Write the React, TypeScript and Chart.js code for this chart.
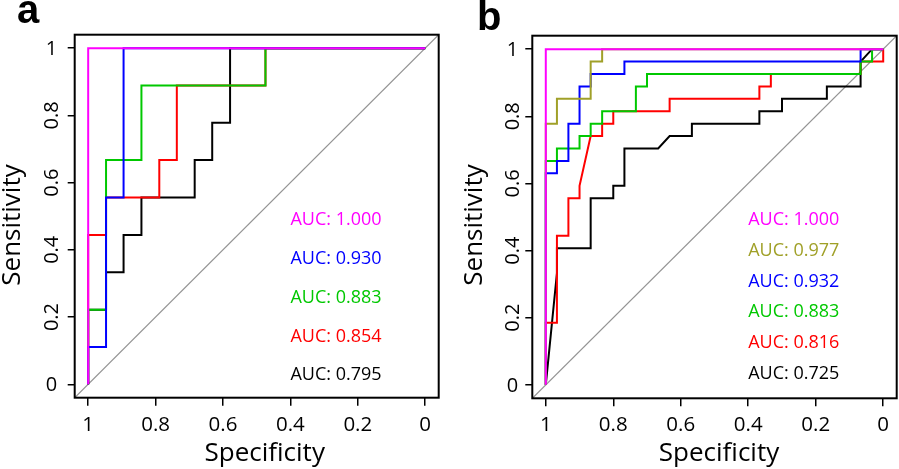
import React, { useEffect, useRef } from "react";
import { Chart, registerables } from "chart.js";

Chart.register(...registerables);

// ---------- shared axis ticks ----------
const AXIS_TICKS = [0, 0.2, 0.4, 0.6, 0.8, 1];
const AXIS_TICK_LABELS = ["0", "0.2", "0.4", "0.6", "0.8", "1"];
const X_TITLE = "Specificity";
const Y_TITLE = "Sensitivity";

// ---------- panel a data (specificity, sensitivity) ----------
const A_MAGENTA_SPEC = [1, 1, 0];
const A_MAGENTA_SENS = [0, 1, 1];
const A_BLUE_SPEC = [1, 1, 0.947, 0.947, 0.895, 0.895, 0];
const A_BLUE_SENS = [0, 0.111, 0.111, 0.556, 0.556, 1, 1];
const A_GREEN_SPEC = [1, 1, 0.947, 0.947, 0.842, 0.842, 0.474, 0.474, 0];
const A_GREEN_SENS = [0, 0.222, 0.222, 0.667, 0.667, 0.889, 0.889, 1, 1];
const A_RED_SPEC = [1, 1, 0.947, 0.947, 0.789, 0.789, 0.737, 0.737, 0.474, 0.474, 0];
const A_RED_SENS = [0, 0.444, 0.444, 0.556, 0.556, 0.667, 0.667, 0.889, 0.889, 1, 1];
const A_BLACK_SPEC = [1, 1, 0.947, 0.947, 0.895, 0.895, 0.842, 0.842, 0.684, 0.684, 0.632, 0.632, 0.579, 0.579, 0];
const A_BLACK_SENS = [0, 0.222, 0.222, 0.333, 0.333, 0.444, 0.444, 0.556, 0.556, 0.667, 0.667, 0.778, 0.778, 1, 1];
const A_AUC_LABELS = ["AUC: 1.000", "AUC: 0.930", "AUC: 0.883", "AUC: 0.854", "AUC: 0.795"];

// ---------- panel b data ----------
const B_MAGENTA_SPEC = [1, 1, 0];
const B_MAGENTA_SENS = [0, 1, 1];
const B_OLIVE_SPEC = [1, 1, 0.967, 0.967, 0.867, 0.867, 0.833, 0.833, 0];
const B_OLIVE_SENS = [0, 0.778, 0.778, 0.852, 0.852, 0.963, 0.963, 1, 1];
const B_BLUE_SPEC = [1, 1, 0.967, 0.967, 0.933, 0.933, 0.9, 0.9, 0.867, 0.867, 0.767, 0.767, 0.067, 0.067, 0];
const B_BLUE_SENS = [0, 0.63, 0.63, 0.667, 0.667, 0.778, 0.778, 0.889, 0.889, 0.926, 0.926, 0.963, 0.963, 1, 1];
const B_GREEN_SPEC = [1, 1, 0.967, 0.967, 0.9, 0.9, 0.867, 0.867, 0.833, 0.833, 0.733, 0.733, 0.7, 0.7, 0.067, 0.067, 0.033, 0.033, 0];
const B_GREEN_SENS = [0, 0.667, 0.667, 0.704, 0.704, 0.741, 0.741, 0.778, 0.778, 0.815, 0.815, 0.889, 0.889, 0.926, 0.926, 0.963, 0.963, 1, 1];
const B_RED_SPEC = [1, 1, 0.967, 0.967, 0.933, 0.933, 0.9, 0.9, 0.867, 0.833, 0.833, 0.8, 0.8, 0.633, 0.633, 0.367, 0.367, 0.333, 0.333, 0.067, 0.067, 0, 0];
const B_RED_SENS = [0, 0.185, 0.185, 0.444, 0.444, 0.556, 0.556, 0.593, 0.741, 0.741, 0.778, 0.778, 0.815, 0.815, 0.852, 0.852, 0.889, 0.889, 0.926, 0.926, 0.963, 0.963, 1];
const B_BLACK_SPEC = [1, 0.967, 0.967, 0.867, 0.867, 0.8, 0.8, 0.767, 0.767, 0.667, 0.633, 0.567, 0.567, 0.367, 0.367, 0.3, 0.3, 0.167, 0.167, 0.067, 0.067, 0.033, 0];
const B_BLACK_SENS = [0, 0.333, 0.407, 0.407, 0.556, 0.556, 0.593, 0.593, 0.704, 0.704, 0.741, 0.741, 0.778, 0.778, 0.815, 0.815, 0.852, 0.852, 0.889, 0.889, 0.963, 1, 1];
const B_AUC_LABELS = ["AUC: 1.000", "AUC: 0.977", "AUC: 0.932", "AUC: 0.883", "AUC: 0.816", "AUC: 0.725"];

// chance line endpoints (axis extremes)
const DIAG_SPEC = [1.04, -0.04];
const DIAG_SENS = [-0.04, 1.04];

// ---------- styles ----------
const MAGENTA = "#FF00FF";
const OLIVE = "#A0A028";
const BLUE = "#0000FF";
const GREEN = "#00C800";
const RED = "#FF0000";
const BLACK = "#000000";
const DIAG_COLOR = "#949494";
const FONT = '"Open Sans", "DejaVu Sans", sans-serif';

type Series = { spec: number[]; sens: number[]; color: string };
type Panel = {
  letter: string;
  series: Series[];
  aucLabels: string[];
  aucColors: string[];
  aucY: number[];
  aucX: number;
  padTop: number;
  padRight: number;
  yAxisW: number;
  xAxisH: number;
  yLabelX: number;
  yTitleX: number;
  xTitleX: number;
  titleBaseline: number;
  letterX: number;
  letterBaseline: number;
};

const PANEL_A: Panel = {
  letter: "a",
  series: [
    { spec: A_MAGENTA_SPEC, sens: A_MAGENTA_SENS, color: MAGENTA },
    { spec: A_BLUE_SPEC, sens: A_BLUE_SENS, color: BLUE },
    { spec: A_GREEN_SPEC, sens: A_GREEN_SENS, color: GREEN },
    { spec: A_RED_SPEC, sens: A_RED_SENS, color: RED },
    { spec: A_BLACK_SPEC, sens: A_BLACK_SENS, color: BLACK },
  ],
  aucLabels: A_AUC_LABELS,
  aucColors: [MAGENTA, BLUE, GREEN, RED, BLACK],
  aucY: [0.493, 0.378, 0.262, 0.146, 0.031],
  aucX: 0.4,
  padTop: 34.7,
  padRight: 11.3,
  yAxisW: 74.7,
  xAxisH: 71.3,
  yLabelX: 51,
  yTitleX: 20,
  xTitleX: 264.7,
  titleBaseline: 461,
  letterX: 17,
  letterBaseline: 22.5,
};

const PANEL_B: Panel = {
  letter: "b",
  series: [
    { spec: B_MAGENTA_SPEC, sens: B_MAGENTA_SENS, color: MAGENTA },
    { spec: B_OLIVE_SPEC, sens: B_OLIVE_SENS, color: OLIVE },
    { spec: B_BLUE_SPEC, sens: B_BLUE_SENS, color: BLUE },
    { spec: B_GREEN_SPEC, sens: B_GREEN_SENS, color: GREEN },
    { spec: B_RED_SPEC, sens: B_RED_SENS, color: RED },
    { spec: B_BLACK_SPEC, sens: B_BLACK_SENS, color: BLACK },
  ],
  aucLabels: B_AUC_LABELS,
  aucColors: [MAGENTA, OLIVE, BLUE, GREEN, RED, BLACK],
  aucY: [0.495, 0.403, 0.312, 0.22, 0.128, 0.037],
  aucX: 0.4,
  padTop: 35.7,
  padRight: 2.3,
  yAxisW: 82.3,
  xAxisH: 70.7,
  yLabelX: 62,
  yTitleX: 31.5,
  xTitleX: 269,
  titleBaseline: 461,
  letterX: 27,
  letterBaseline: 30,
};

const decorPlugin = {
  id: "panelDecor",
  afterDraw(chart: any, _args: any, opts: any) {
    const p: Panel = opts.panel;
    const { ctx, chartArea: ca, scales } = chart;
    const xs = scales.x;
    const ys = scales.y;
    ctx.save();
    // frame
    ctx.strokeStyle = "#000";
    ctx.lineWidth = 2;
    ctx.strokeRect(ca.left, ca.top, ca.right - ca.left, ca.bottom - ca.top);

    // y tick labels (R style: parallel to axis)
    ctx.fillStyle = "#000";
    ctx.font = `20px ${FONT}`;
    ctx.textAlign = "center";
    ctx.textBaseline = "alphabetic";
    AXIS_TICKS.forEach((v, i) => {
      const label = AXIS_TICK_LABELS[i];
      const py = ys.getPixelForValue(v);
      if (label.length === 1) {
        ctx.fillText(label, p.yLabelX + 0.5, py + 7);
      } else {
        ctx.save();
        ctx.translate(p.yLabelX + 7, py);
        ctx.rotate(-Math.PI / 2);
        ctx.fillText(label, 0, 0);
        ctx.restore();
      }
    });

    // axis titles
    ctx.font = `26px ${FONT}`;
    ctx.fillText(X_TITLE, p.xTitleX, p.titleBaseline);
    ctx.save();
    ctx.translate(p.yTitleX, 225);
    ctx.rotate(-Math.PI / 2);
    ctx.fillText(Y_TITLE, 0, 0);
    ctx.restore();

    // AUC labels
    ctx.font = `18px ${FONT}`;
    ctx.textAlign = "left";
    const ax = xs.getPixelForValue(p.aucX);
    p.aucLabels.forEach((t, i) => {
      ctx.fillStyle = p.aucColors[i];
      ctx.fillText(t, ax, ys.getPixelForValue(p.aucY[i]) + 6.4);
    });

    // panel letter
    ctx.fillStyle = "#000";
    ctx.font = `bold 40px "Liberation Sans", Arial, sans-serif`;
    ctx.fillText(p.letter, p.letterX, p.letterBaseline);
    ctx.restore();
  },
};

function makeChart(canvas: HTMLCanvasElement, p: Panel) {
  const datasets: any[] = p.series.map((s) => ({
    data: s.spec.map((x, i) => ({ x, y: s.sens[i] })),
    showLine: true,
    borderColor: s.color,
    backgroundColor: s.color,
    borderWidth: 2,
    pointRadius: 0,
    tension: 0,
    fill: false,
  }));
  datasets.push({
    data: DIAG_SPEC.map((x, i) => ({ x, y: DIAG_SENS[i] })),
    showLine: true,
    borderColor: DIAG_COLOR,
    borderWidth: 1.2,
    pointRadius: 0,
    tension: 0,
    fill: false,
  });

  const setTicks = (scale: any) => {
    scale.ticks = AXIS_TICKS.map((v) => ({ value: v }));
  };
  const labelFor = (v: any) => {
    const idx = AXIS_TICKS.findIndex((t) => Math.abs(t - Number(v)) < 1e-9);
    return idx >= 0 ? AXIS_TICK_LABELS[idx] : "";
  };

  return new Chart(canvas, {
    type: "scatter",
    data: { datasets },
    plugins: [decorPlugin],
    options: {
      responsive: false,
      animation: false,
      devicePixelRatio: 1,
      events: [],
      layout: { padding: { left: 0, top: p.padTop, right: p.padRight, bottom: 0 } },
      plugins: {
        legend: { display: false },
        tooltip: { enabled: false },
        panelDecor: { panel: p },
      } as any,
      scales: {
        x: {
          type: "linear",
          reverse: true,
          min: -0.04,
          max: 1.04,
          afterBuildTicks: setTicks,
          afterFit: (s: any) => {
            s.height = p.xAxisH;
          },
          border: { display: false },
          grid: {
            display: true,
            drawOnChartArea: false,
            drawTicks: true,
            tickLength: 8,
            color: "#000",
            tickColor: "#000",
            lineWidth: 1.5,
          },
          ticks: {
            autoSkip: false,
            maxRotation: 0,
            minRotation: 0,
            padding: 7,
            color: "#000",
            font: { family: FONT, size: 20.5 },
            callback: (v: any) => labelFor(v),
          },
        },
        y: {
          type: "linear",
          min: -0.04,
          max: 1.04,
          afterBuildTicks: setTicks,
          afterFit: (s: any) => {
            s.width = p.yAxisW;
          },
          border: { display: false },
          grid: {
            display: true,
            drawOnChartArea: false,
            drawTicks: true,
            tickLength: 7,
            color: "#000",
            tickColor: "#000",
            lineWidth: 1.5,
          },
          ticks: { display: false },
        },
      },
    } as any,
  });
}

export default function App() {
  const refA = useRef<HTMLCanvasElement>(null);
  const refB = useRef<HTMLCanvasElement>(null);
  useEffect(() => {
    const ca = makeChart(refA.current as HTMLCanvasElement, PANEL_A);
    const cb = makeChart(refB.current as HTMLCanvasElement, PANEL_B);
    return () => {
      ca.destroy();
      cb.destroy();
    };
  }, []);
  return (
    <div style={{ position: "absolute", left: 0, top: 0, width: 899, height: 469, background: "#fff", overflow: "hidden" }}>
      <canvas ref={refA} width={450} height={469} style={{ position: "absolute", left: 0, top: 0 }} />
      <canvas ref={refB} width={449} height={469} style={{ position: "absolute", left: 450, top: 0 }} />
    </div>
  );
}
